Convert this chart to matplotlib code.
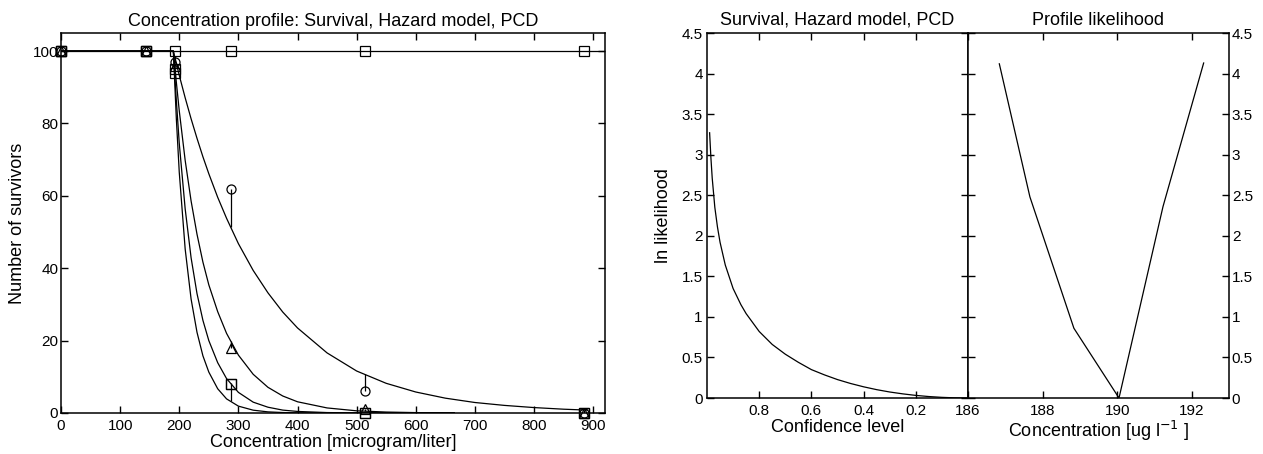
import numpy as np
import matplotlib
matplotlib.use('Agg')
import matplotlib.pyplot as plt
from matplotlib.ticker import FormatStrFormatter

plt.rcParams['font.family'] = ['Liberation Sans', 'DejaVu Sans']
plt.rcParams['font.size'] = 11

# observed survivors per test concentration (microgram/liter)
conc = [0, 143, 192, 287, 514, 885]
surv_t0 = [100, 100, 100, 100, 100, 100]
surv_t1 = [100, 100, 97, 62, 6, 0]
surv_t2 = [100, 100, 96, 18, 1, 0]
surv_t3 = [100, 100, 95, 8, 0, 0]
surv_t4 = [100, 100, 94, 8, 0, 0]

# fitted hazard model curves
ctrl_conc = [0, 920]
ctrl_fit = [100, 100]
fit_conc_long = [0, 190, 195, 200, 210, 220, 230, 240, 250, 265, 280, 300, 325,
                 350, 375, 400, 450, 500, 550, 600, 650, 700, 750, 800, 850, 890]
fit_t1 = [100, 100, 96.6, 93.3, 87.1, 81.3, 75.9, 70.8, 66.1, 59.6, 53.8, 46.8, 39.4,
          33.2, 27.9, 23.5, 16.6, 11.6, 8.2, 5.8, 4.1, 2.9, 2.1, 1.5, 1.05, 0.8]
fit_conc = [0, 190, 195, 200, 210, 220, 230, 240, 250, 265, 280, 300, 325,
            350, 375, 400, 450, 500, 550, 600, 665]
fit_t2 = [100, 100, 91.5, 83.5, 69.8, 58.6, 49.4, 41.7, 35.4, 28.0, 22.0, 16.0, 10.7,
          7.1, 4.7, 3.1, 1.4, 0.6, 0.26, 0.11, 0.04]
fit_t3 = [100, 100, 86.5, 74.5, 56.4, 42.9, 33.0, 25.6, 20.0, 13.9, 9.5, 5.7, 3.0,
          1.6, 0.8, 0.43, 0.12, 0.03, 0.0, 0.0, 0.0]
fit_t4 = [100, 100, 81.5, 66.5, 45.3, 31.5, 22.3, 15.8, 11.3, 6.7, 3.9, 1.9, 0.78,
          0.31, 0.13, 0.05, 0.0, 0.0, 0.0, 0.0, 0.0]

# ln likelihood against confidence level
conf = [0.99, 0.985, 0.98, 0.97, 0.96, 0.95, 0.93, 0.9, 0.87, 0.85, 0.8, 0.75, 0.7,
        0.65, 0.6, 0.55, 0.5, 0.45, 0.4, 0.35, 0.3, 0.25, 0.2, 0.15, 0.1, 0.05, 0.0]
lnlik = [3.27, 2.96, 2.71, 2.35, 2.11, 1.92, 1.64, 1.35, 1.15, 1.04, 0.82, 0.66, 0.54,
         0.44, 0.35, 0.285, 0.227, 0.179, 0.138, 0.103, 0.074, 0.051, 0.032, 0.018,
         0.008, 0.002, 0.0]

# profile likelihood for the no-effect concentration
prof_conc = [186.84, 187.66, 188.84, 190.05, 191.23, 192.32]
prof_lnlik = [4.12, 2.48, 0.86, 0.0, 2.36, 4.13]

W, H = 1263, 454
fig = plt.figure(figsize=(W / 100, H / 100), dpi=100)

ax1 = fig.add_axes([61 / W, (H - 413) / H, (605 - 61) / W, 380 / H])
ax2 = fig.add_axes([707 / W, (H - 398) / H, 261 / W, 365 / H])
ax3 = fig.add_axes([968 / W, (H - 398) / H, 261 / W, 365 / H])

lw = 0.9
for ax in (ax1, ax2, ax3):
    for sp in ax.spines.values():
        sp.set_linewidth(1.1)
    ax.tick_params(direction='in', top=True, right=True, length=5, width=1.0,
                   labelsize=11, pad=4)

# left panel: survivors vs concentration
ax1.plot(ctrl_conc, ctrl_fit, 'k-', lw=lw)
ax1.plot(fit_conc_long, fit_t1, 'k-', lw=lw)
for f in (fit_t2, fit_t3, fit_t4):
    ax1.plot(fit_conc, f, 'k-', lw=lw)

series = [(surv_t1, fit_conc_long, fit_t1), (surv_t2, fit_conc, fit_t2),
          (surv_t3, fit_conc, fit_t3), (surv_t4, fit_conc, fit_t4)]
for obs, fx, fy in series:
    model = np.interp(conc, fx, fy)
    ax1.vlines(conc, obs, model, colors='k', lw=lw)

mk = dict(linestyle='none', mfc='none', mec='k', ms=6.5, mew=0.9, clip_on=False)
ax1.plot(conc, surv_t0, marker='s', **mk)
ax1.plot(conc, surv_t1, marker='o', **mk)
ax1.plot(conc, surv_t2, marker='^', **mk)
ax1.plot(conc, surv_t3, marker='s', **mk)
ax1.plot(conc, surv_t4, marker='s', **mk)

ax1.set_xlim(0, 920)
ax1.set_ylim(0, 105)
ax1.set_xticks(range(0, 901, 100))
ax1.set_yticks(range(0, 101, 20))
ax1.tick_params(axis='y', pad=2)
ax1.set_title('Concentration profile: Survival, Hazard model, PCD', fontsize=13, pad=5)
ax1.set_xlabel('Concentration [microgram/liter]', fontsize=13, labelpad=1)
ax1.set_ylabel('Number of survivors', fontsize=13, labelpad=5)

# middle panel: ln likelihood vs confidence level
ax2.plot(conf, lnlik, 'k-', lw=lw)
ax2.set_xlim(1, 0)
ax2.set_ylim(0, 4.5)
ax2.set_xticks([0.8, 0.6, 0.4, 0.2])
ax2.set_yticks(np.arange(0, 4.51, 0.5))
ax2.xaxis.set_major_formatter(FormatStrFormatter('%g'))
ax2.yaxis.set_major_formatter(FormatStrFormatter('%g'))
ax2.tick_params(axis='y', pad=3)
ax2.set_title('Survival, Hazard model, PCD', fontsize=13, pad=6)
ax2.set_xlabel('Confidence level', fontsize=13, labelpad=1)
ax2.set_ylabel('ln likelihood', fontsize=13, labelpad=7)

# right panel: profile likelihood
ax3.plot(prof_conc, prof_lnlik, 'k-', lw=lw)
ax3.set_xlim(186, 193)
ax3.set_ylim(0, 4.5)
ax3.set_xticks([186, 188, 190, 192])
ax3.set_yticks(np.arange(0, 4.51, 0.5))
ax3.yaxis.set_major_formatter(FormatStrFormatter('%g'))
ax3.tick_params(labelleft=False, labelright=True)
ax3.tick_params(axis='y', pad=2)
ax3.set_title('Profile likelihood', fontsize=13, pad=6)
ax3.set_xlabel('Concentration [ug l$^{-1}$ ]', fontsize=13, labelpad=1)

fig.savefig('out.png', dpi=100)
